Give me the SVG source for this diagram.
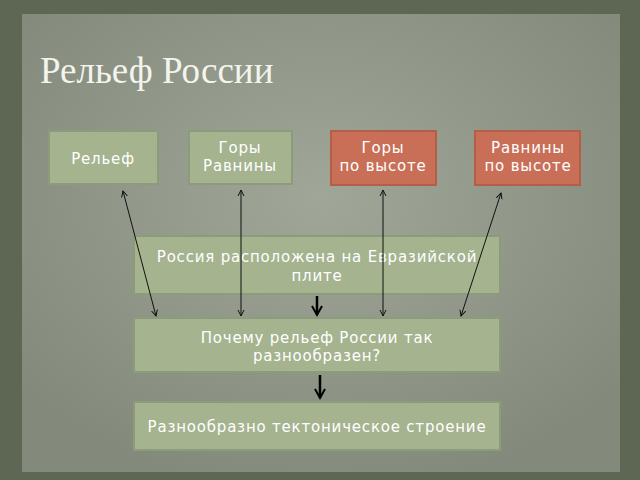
<svg xmlns="http://www.w3.org/2000/svg" width="640" height="480" viewBox="0 0 640 480">
<defs>
<radialGradient id="bg" cx="50%" cy="40%" r="65%"><stop offset="0" stop-color="#a0a698"/><stop offset="1" stop-color="#838a7b"/></radialGradient>
<marker id="a" markerWidth="8" markerHeight="8" refX="6" refY="4" orient="auto-start-reverse" markerUnits="userSpaceOnUse"><path d="M0,1 L6,4 L0,7" fill="none" stroke="#111" stroke-width="1"/></marker>
<marker id="b" markerWidth="14" markerHeight="12" refX="10" refY="6" orient="auto" markerUnits="userSpaceOnUse"><path d="M1,1 L10,6 L1,11" fill="none" stroke="#000" stroke-width="2"/></marker>
</defs>
<style>
.g{fill:#a5b38f;stroke:#8c9b79;stroke-width:2}
.r{fill:#c96f57;stroke:#b35e48;stroke-width:2}
text{font-family:"DejaVu Sans","Noto Sans",sans-serif;font-size:15px;letter-spacing:0.8px;fill:#fff;text-anchor:middle}
.c{stroke:#111;stroke-width:1;fill:none}
.t{stroke:#000;stroke-width:2.5;fill:none}
</style>
<rect width="640" height="480" fill="#5d6754"/>
<rect x="22" y="14" width="598" height="458" fill="url(#bg)"/>
<text x="40" y="83" style="font-family:'Liberation Serif',serif;font-size:37px;letter-spacing:0;text-anchor:start;fill:#f4f4ee">Рельеф России</text>
<g id="n1"><rect class="g" x="49" y="131" width="109" height="53"/><text x="103" y="164">Рельеф</text></g>
<g id="n2"><rect class="g" x="189" y="131" width="103" height="53"/><text x="240" y="153">Горы</text><text x="240" y="171">Равнины</text></g>
<g id="n3"><rect class="r" x="331" y="131" width="105" height="54"/><text x="383" y="153">Горы</text><text x="383" y="171">по высоте</text></g>
<g id="n4"><rect class="r" x="475" y="131" width="105" height="54"/><text x="528" y="153">Равнины</text><text x="528" y="171">по высоте</text></g>
<g id="n5"><rect class="g" x="134" y="236" width="366" height="58"/><text x="317" y="262">Россия расположена на Евразийской</text><text x="317" y="281">плите</text></g>
<g id="n6"><rect class="g" x="134" y="318" width="366" height="54"/><text x="317" y="343">Почему рельеф России так</text><text x="317" y="361">разнообразен?</text></g>
<g id="n7"><rect class="g" x="134" y="402" width="366" height="48"/><text x="317" y="432">Разнообразно тектоническое строение</text></g>
<g id="connectors">
<line class="c" x1="123" y1="191" x2="156" y2="316" marker-start="url(#a)" marker-end="url(#a)"/>
<line class="c" x1="241" y1="190" x2="241" y2="316" marker-start="url(#a)" marker-end="url(#a)"/>
<line class="c" x1="383" y1="190" x2="383" y2="316" marker-start="url(#a)" marker-end="url(#a)"/>
<line class="c" x1="501" y1="193" x2="461" y2="316" marker-start="url(#a)" marker-end="url(#a)"/>
<line class="t" x1="317" y1="296" x2="317" y2="315" marker-end="url(#b)"/>
<line class="t" x1="320" y1="375" x2="320" y2="398" marker-end="url(#b)"/>
</g>
</svg>
